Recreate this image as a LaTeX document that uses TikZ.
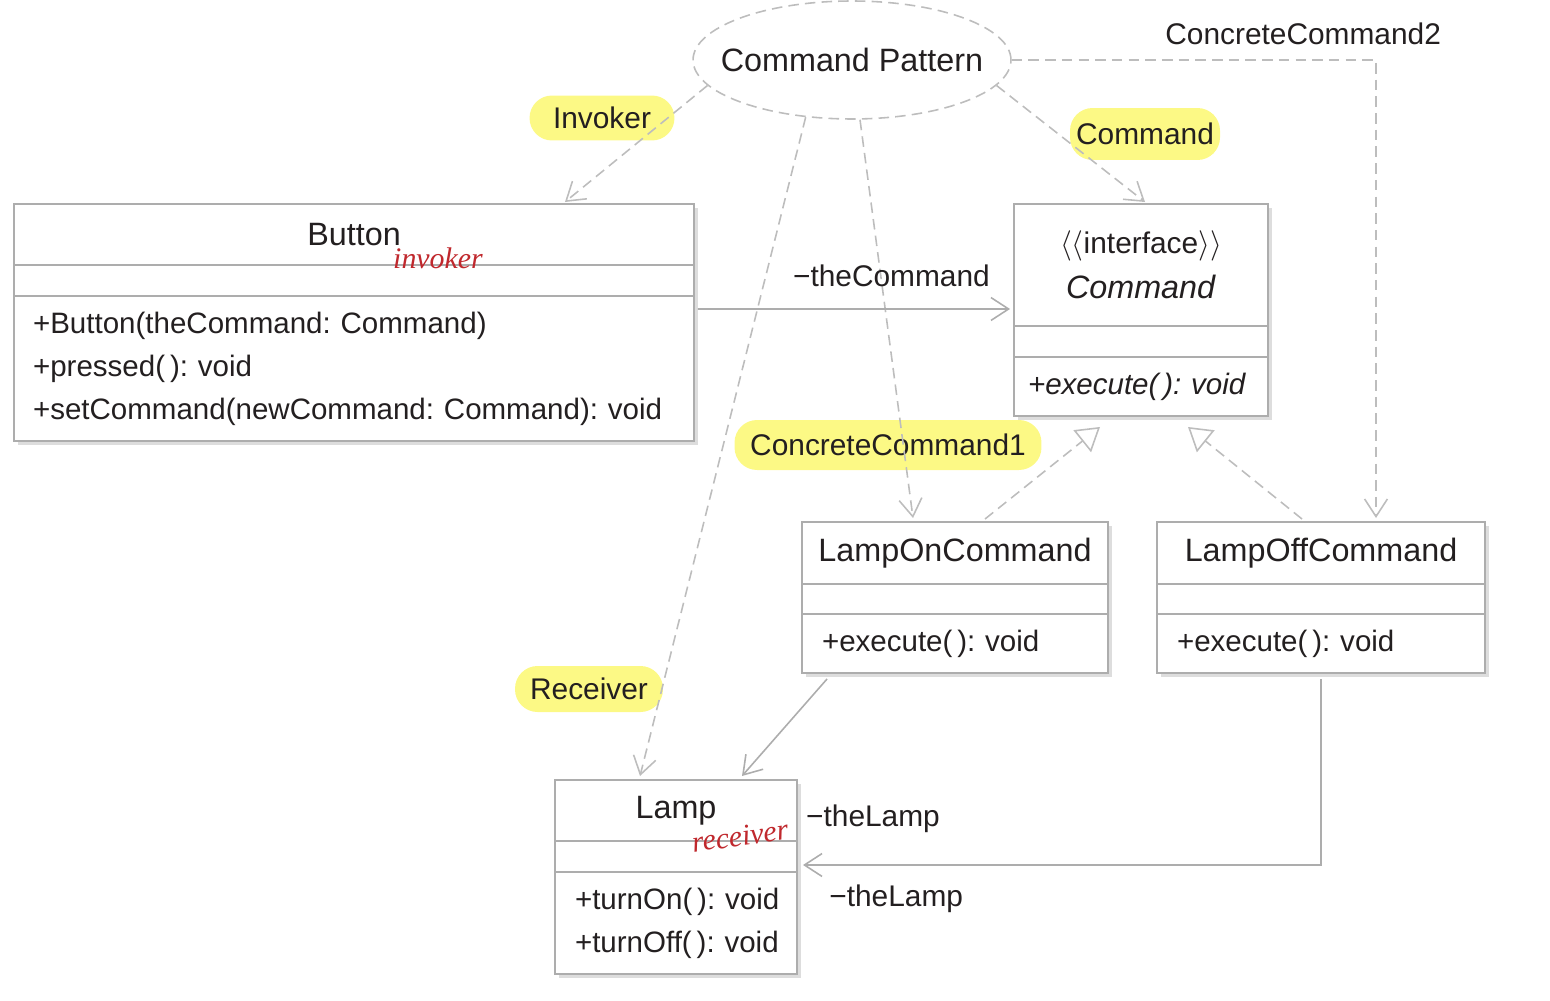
\documentclass[tikz,border=0pt]{standalone}
\usepackage{fontspec}
\setmainfont{Liberation Sans}
\newfontfamily\handfont{Liberation Serif}
\usepackage{tikz}
\usetikzlibrary{shapes.geometric, arrows.meta, positioning, shadows}
\definecolor{linegray}{HTML}{ADADAD}
\definecolor{dashgray}{HTML}{BDBDBD}
\definecolor{shade}{HTML}{DDDDDD}
\definecolor{marker}{HTML}{FCF985}
\definecolor{ink}{HTML}{231F20}
\definecolor{pen}{HTML}{C0282D}
\frenchspacing

\begin{document}
\begin{tikzpicture}[
    x=0.02cm, y=-0.02cm,
    cls/.style={rectangle, draw=linegray, fill=white, line width=0.9pt, inner sep=0pt, outer sep=0pt, text=ink, drop shadow={shadow xshift=2.3pt, shadow yshift=-2.3pt, fill=shade, opacity=1}},
    ttl/.style={cls, font=\fontsize{18.4}{25.6}\selectfont},
    ops/.style={cls, align=left, font=\fontsize{16.8}{24.5}\selectfont},
    lbl/.style={text=ink, font=\fontsize{17}{20}\selectfont},
    hilite/.style={lbl, fill=marker, rounded corners=0.45cm, inner sep=0pt},
    hand/.style={text=pen, font=\handfont\itshape\fontsize{17}{20}\selectfont},
    arr/.style={-{Straight Barb[length=10pt, width=13pt]}, line width=0.9pt, draw=linegray},
    dep/.style={arr, draw=dashgray, dash pattern=on 6pt off 3.5pt},
    real/.style={-{Triangle[open, length=13pt, width=16pt, fill=white]}, line width=0.9pt, draw=dashgray, dash pattern=on 6pt off 3.5pt}
]
\useasboundingbox (0,0) rectangle (1550,1000);

% marker notes
\node[hilite, minimum width=2.9cm, minimum height=0.9cm] (invoker) at (602,118) {Invoker};
\node[hilite, minimum width=3cm, minimum height=1.04cm] (cmdnote) at (1145,134) {Command};
\node[hilite, minimum width=6.14cm, minimum height=1cm] (concrete1) at (888,445) {ConcreteCommand1};
\node[hilite, minimum width=2.96cm, minimum height=0.92cm] (receiver) at (589,689) {Receiver};

\node[ellipse, draw=dashgray, line width=0.9pt, dash pattern=on 6pt off 3.5pt, inner xsep=-0.4cm, inner ysep=0pt, minimum width=6.36cm, minimum height=2.36cm, text=ink, font=\fontsize{18.4}{22}\selectfont] (cp) at (852,60) {Command Pattern};

% Button
\node[ttl, minimum width=13.6cm, minimum height=1.22cm] (btn) at (354,234.5) {Button};
\node[cls, minimum width=13.6cm, minimum height=0.62cm, below=0pt of btn] (btnattr) {};
\node[ops, text width=12.84cm, inner xsep=0.38cm, minimum height=2.9cm, below=0pt of btnattr] (btnops) {+Button(theCommand:~Command)\\+pressed(\,):~void\\+setCommand(newCommand:~Command):~void};

% Command
\node[ttl, minimum width=5.08cm, minimum height=2.44cm, align=center] (cmd) at (1141,265) {{\fontsize{17}{25.6}\selectfont$\langle\langle$interface$\rangle\rangle$}\\\textit{Command}};
\node[cls, minimum width=5.08cm, minimum height=0.62cm, below=0pt of cmd] (cmdattr) {};
\node[ops, text width=4.52cm, inner xsep=0.28cm, minimum height=1.18cm, below=0pt of cmdattr, font=\itshape\fontsize{16.8}{24.5}\selectfont] (cmdops) {+execute(\,):~void};

% concrete commands
\node[ttl, minimum width=6.12cm, minimum height=1.24cm] (lon) at (955,553) {LampOnCommand};
\node[cls, minimum width=6.12cm, minimum height=0.6cm, below=0pt of lon] (lonattr) {};
\node[ops, text width=5.32cm, inner xsep=0.4cm, minimum height=1.18cm, below=0pt of lonattr] (lonops) {+execute(\,):~void};

\node[ttl, minimum width=6.56cm, minimum height=1.24cm] (loff) at (1321,553) {LampOffCommand};
\node[cls, minimum width=6.56cm, minimum height=0.6cm, below=0pt of loff] (loffattr) {};
\node[ops, text width=5.76cm, inner xsep=0.4cm, minimum height=1.18cm, below=0pt of loffattr] (loffops) {+execute(\,):~void};

% Lamp
\node[ttl, minimum width=4.84cm, minimum height=1.22cm] (lamp) at (676,810.5) {Lamp};
\node[cls, minimum width=4.84cm, minimum height=0.62cm, below=0pt of lamp] (lampattr) {};
\node[ops, text width=4.04cm, inner xsep=0.4cm, minimum height=2.04cm, below=0pt of lampattr] (lampops) {+turnOn(\,):~void\\+turnOff(\,):~void};

% pen notes
\node[hand] (invnote) at (438,258) {invoker};
\node[hand, rotate=8] (recnote) at (740,836) {receiver};
\node[lbl] (lamprole) at (873,819) {−theLamp};

\draw[dep] (cp.190) -- ([xshift=4.22cm, yshift=0.04cm]btn.north);
\draw[dep] (cp.-10) -- ([xshift=0.08cm, yshift=0.04cm]cmd.north);
\draw[dep] ([xshift=0.16cm]cp.south) -- ([xshift=-0.84cm, yshift=0.08cm]lon.north);
\draw[dep] (cp.-129) -- ([xshift=-0.72cm, yshift=0.08cm]lamp.north);
\draw[dep] (cp.east) -| node[lbl, pos=0.4, above=0.18cm] {ConcreteCommand2} ([xshift=1.1cm, yshift=0.08cm]loff.north);

\draw[arr] ([xshift=0.08cm, yshift=1.19cm]btnops.east) -- node[lbl, pos=0.62, above=0.32cm] {−theCommand} ([xshift=-0.08cm, yshift=-0.88cm]cmd.west);
\draw[real] ([xshift=0.6cm, yshift=0.06cm]lon.north) -- ([xshift=-0.82cm, yshift=-0.22cm]cmdops.south);
\draw[real] ([xshift=-0.38cm, yshift=0.06cm]loff.north) -- ([xshift=0.94cm, yshift=-0.22cm]cmdops.south);
\draw[arr] ([xshift=-2.56cm, yshift=-0.12cm]lonops.south) -- ([xshift=1.32cm, yshift=0.08cm]lamp.north);
\draw[arr] ([yshift=-0.12cm]loffops.south) |- node[lbl, pos=0.91, below=0.26cm] {−theLamp} ([xshift=0.12cm, yshift=-0.17cm]lampattr.east);

\end{tikzpicture}
\end{document}
